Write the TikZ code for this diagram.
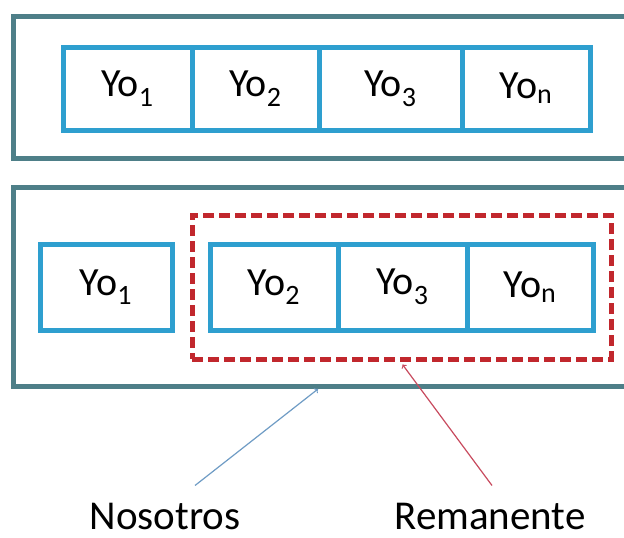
\documentclass[tikz,border=0pt]{standalone}
\usepackage{fontspec}
\setmainfont{Carlito}
\usetikzlibrary{positioning,fit}
\definecolor{frameteal}{HTML}{4E7F88}
\definecolor{cellblue}{HTML}{2E9FCF}
\definecolor{remred}{HTML}{C1272D}
\definecolor{nosblue}{HTML}{6F9CC5}
\definecolor{arrowred}{HTML}{C84A5E}

\begin{document}
\begin{tikzpicture}[x=1pt,y=-1pt,
    yo/.style={draw=cellblue, line width=5pt, inner sep=0pt, outer sep=0pt,
      font=\fontsize{40}{44}\selectfont},
    grp/.style={draw=frameteal, line width=5pt, inner sep=0pt, outer sep=0pt},
    lbl/.style={font=\fontsize{41}{45}\selectfont, anchor=base, inner sep=0pt}]
      \useasboundingbox[fill=white] (0,0) rectangle (624,538);
      % Outer frames
      \node[grp, minimum width=640pt, minimum height=142pt] (top) at (333,87) {};
      \node[grp, minimum width=640pt, minimum height=199pt] (bot) at (333,286.5) {};
      % First row
      \node[yo, minimum width=129pt, minimum height=83pt] (a1) at (127.5,88.5) {Yo\textsubscript{1}};
      \node[yo, minimum width=127pt, minimum height=83pt, right=0pt of a1] (a2) {Yo\textsubscript{2}};
      \node[yo, minimum width=143pt, minimum height=83pt, right=0pt of a2] (a3) {Yo\textsubscript{3}};
      \node[yo, minimum width=128pt, minimum height=83pt, right=0pt of a3] (a4) {Yo\textsubscript{n}};
      % Second row
      \node[yo, minimum width=132pt, minimum height=86pt] (b1) at (106,287) {Yo\textsubscript{1}};
      \node[yo, minimum width=128pt, minimum height=86pt] (b2) at (274,287) {Yo\textsubscript{2}};
      \node[yo, minimum width=129pt, minimum height=86pt, right=0pt of b2] (b3) {Yo\textsubscript{3}};
      \node[yo, minimum width=126pt, minimum height=86pt, right=0pt of b3] (b4) {Yo\textsubscript{n}};
      \node[draw=remred, line width=5pt, dashed, dash pattern=on 11pt off 5pt,
        inner xsep=18pt, inner ysep=29pt, fit=(b2)(b4)] (remgrp) {};
      % Labels
      \node[lbl] (nos) at (165,529) {Nosotros};
      \node[lbl] (rem) at (490,529) {Remanente};
      \draw[->, draw=nosblue, line width=1.2pt] ([xshift=30pt,yshift=17pt]nos.north) -- ([xshift=-15pt,yshift=-3pt]bot.south);
      \draw[->, draw=arrowred, line width=1.2pt] ([xshift=2pt,yshift=17pt]rem.north) -- ([xshift=1pt,yshift=-3pt]remgrp.south);
    \end{tikzpicture}
\end{document}
